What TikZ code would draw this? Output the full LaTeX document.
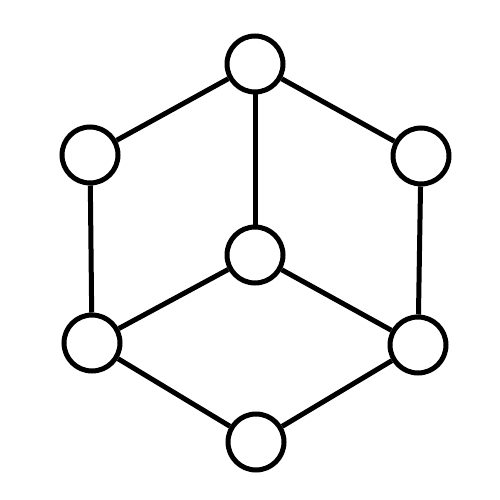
\documentclass[tikz,border=0pt]{standalone}
\begin{document}
\begin{tikzpicture}[x=1pt,y=-1pt,
  vtx/.style={circle,draw=black,fill=white,line width=5pt,minimum size=56pt,inner sep=0pt},
  edge/.style={line width=5pt,draw=black}]
\useasboundingbox (0,0) rectangle (499,500);
\node[vtx] (t) at (255,64) {};
\node[vtx] (ul) at (90,155) {};
\node[vtx] (ur) at (421,156) {};
\node[vtx] (c) at (255,255) {};
\node[vtx] (ll) at (92,343) {};
\node[vtx] (lr) at (418,345) {};
\node[vtx] (b) at (256,442) {};
\draw[edge] (t) -- (ul);
\draw[edge] (t) -- (ur);
\draw[edge] (t) -- (c);
\draw[edge] (ul) -- (ll);
\draw[edge] (ur) -- (lr);
\draw[edge] (c) -- (ll);
\draw[edge] (c) -- (lr);
\draw[edge] (ll) -- (b);
\draw[edge] (lr) -- (b);
\end{tikzpicture}
\end{document}
